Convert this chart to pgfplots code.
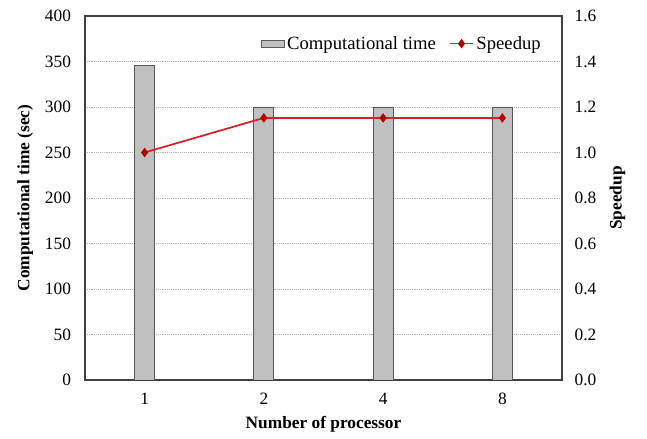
\documentclass[border=0pt]{standalone}
\usepackage{fontspec}
\setmainfont{Liberation Serif}
\usepackage{pgfplots}
\pgfplotsset{compat=1.18}
\definecolor{bargray}{RGB}{192,192,192}
\definecolor{spred}{RGB}{220,30,40}
\definecolor{gridgray}{RGB}{175,175,175}

\pgfplotsset{
  common/.style={
    scale only axis, width=357.75pt, height=273pt,
    xmin=-0.5, xmax=3.5,
    tick label style={font=\fontsize{13}{15}\selectfont},
    label style={font=\fontsize{13}{15}\selectfont\bfseries},
    /pgf/number format/assume math mode=true,
    axis line style={black!75, line width=1.1pt},
  },
}

\begin{document}
\begin{tikzpicture}
\useasboundingbox (-63.75pt,-44.25pt) rectangle (421.5pt,285pt);
\begin{axis}[
  common,
  ymin=0, ymax=400,
  xtick={0,1,2,3}, xticklabels={1,2,4,8},
  xtick pos=bottom, ytick pos=left,
  major x tick style={draw=none},
  major y tick style={draw=none},
  extra x ticks={0.5,1.5,2.5}, extra x tick labels={},
  extra x tick style={major tick length=3pt, major tick style={draw=gray!70, thin}, grid=none},
  ytick={0,50,100,150,200,250,300,350,400},
  ymajorgrids, grid style={densely dotted, gridgray},
  xticklabel style={yshift=-6pt},
  yticklabel style={xshift=-7pt},
  xlabel={Number of processor},
  ylabel={Computational time (sec)},
  xlabel style={yshift=-2pt},
  ylabel style={yshift=2pt},
]
\addplot[ybar, bar width=15pt, fill=bargray, draw=black!65, line width=0.6pt]
  coordinates {(0,346) (1,300) (2,300) (3,300)};
\end{axis}
\begin{axis}[
  common,
  axis y line*=right, axis x line=none,
  ymin=0, ymax=1.6,
  ytick={0,0.2,0.4,0.6,0.8,1.0,1.2,1.4,1.6},
  yticklabel style={xshift=6pt, /pgf/number format/.cd, fixed, fixed zerofill, precision=1},
  major y tick style={draw=none},
  ylabel={Speedup},
  ylabel style={yshift=-3pt},
  legend style={at={(0.97,0.96)}, anchor=north east, draw=none, fill=none,
    legend columns=2, font=\fontsize{14}{16}\selectfont,
    /tikz/every even column/.append style={column sep=8pt}},
]
\addlegendimage{area legend, fill=bargray, draw=black!65}
\addlegendentry{Computational time}
\addplot[spred, line width=1.3pt, mark=diamond*, mark size=2.5pt, mark options={fill=red!70!black, draw=red!70!black}]
  coordinates {(0,1.0) (1,1.152) (2,1.152) (3,1.152)};
\addlegendentry{Speedup}
\end{axis}
\end{tikzpicture}
\end{document}
